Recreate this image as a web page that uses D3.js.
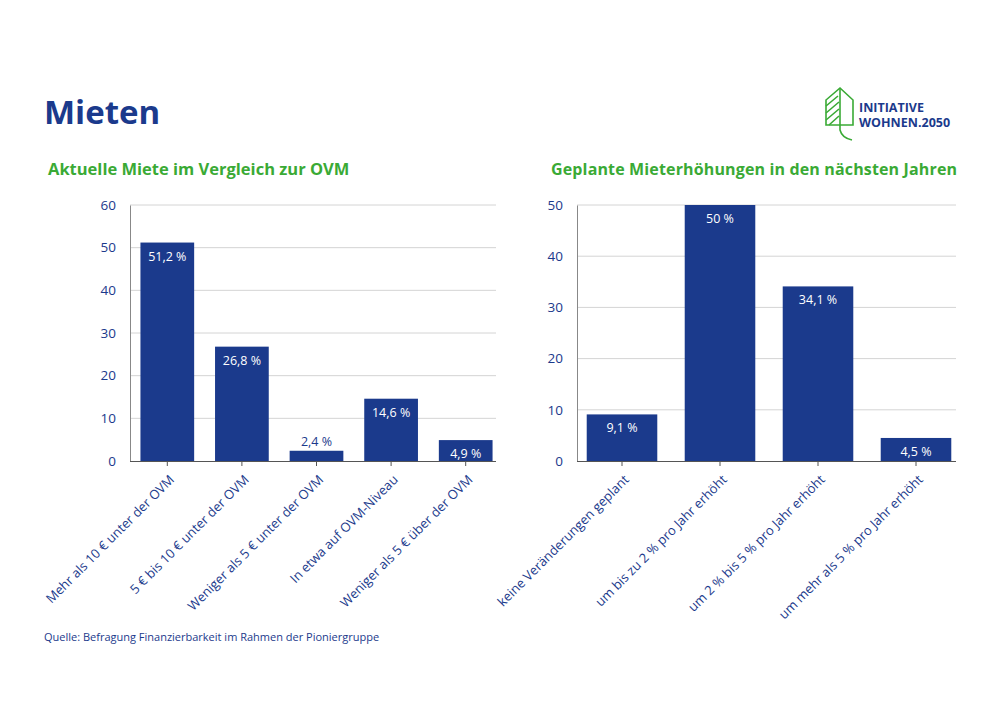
<!DOCTYPE html><html><head><meta charset="utf-8"><script src="https://cdn.jsdelivr.net/npm/d3@7"></script>
<style>body{margin:0;background:#fff}text{font-family:"Open Sans",Roboto,sans-serif}</style></head><body>
<svg id="c" width="1000" height="707"></svg>
<script>
const cats1=["Mehr als 10 € unter der OVM","5 € bis 10 € unter der OVM","Weniger als 5 € unter der OVM","In etwa auf OVM-Niveau","Weniger als 5 € über der OVM"];
const vals1=[51.2,26.8,2.4,14.6,4.9];
const ticks1=[0,10,20,30,40,50,60];
const cats2=["keine Veränderungen geplant","um bis zu 2 % pro Jahr erhöht","um 2 % bis 5 % pro Jahr erhöht","um mehr als 5 % pro Jahr erhöht"];
const vals2=[9.1,50,34.1,4.5];
const ticks2=[0,10,20,30,40,50];
const navy="#1b3a8c",green="#3aaa35";
const svg=d3.select("#c");
svg.append("text").attr("x",44).attr("y",124).attr("fill",navy).attr("font-size",33).attr("font-weight",700).text("Mieten");
svg.append("text").attr("x",48).attr("y",175).attr("fill",green).attr("font-size",16.5).attr("font-weight",700).text("Aktuelle Miete im Vergleich zur OVM");
svg.append("text").attr("x",551).attr("y",175).attr("fill",green).attr("font-size",16).attr("font-weight",700).attr("textLength",406).text("Geplante Mieterhöhungen in den nächsten Jahren");
svg.append("text").attr("x",44).attr("y",641).attr("fill",navy).attr("font-size",11).text("Quelle: Befragung Finanzierbarkeit im Rahmen der Pioniergruppe");
// logo
const lg=svg.append("g").attr("stroke",green).attr("fill","none").attr("stroke-width",1.6);
lg.append("path").attr("d","M826,125 L826,100 L840,88 L853,100 L853,125 Z");
lg.append("path").attr("d","M840,88 L840,130 Q842,138 852,140");
lg.append("path").attr("d","M826,106 L838,96 M826,113 L839,102 M826,120 L839,109 M829,125 L839,116");
svg.append("text").attr("x",859).attr("y",112).attr("fill",navy).attr("font-size",12.5).attr("font-weight",700).text("INITIATIVE");
svg.append("text").attr("x",859).attr("y",127).attr("fill",navy).attr("font-size",12.5).attr("font-weight",700).text("WOHNEN.2050");
function chart(cats,vals,ticks,x0,x1,ax,gx1,top,bottom){
  const x=d3.scaleBand().domain(cats).range([x0,x1]).paddingInner(0.28).paddingOuter(0.14);
  const y=d3.scaleLinear().domain([0,ticks[ticks.length-1]]).range([bottom,top]);
  const g=svg.append("g");
  ticks.forEach(t=>{ if(t>0) g.append("line").attr("x1",ax).attr("x2",gx1).attr("y1",y(t)).attr("y2",y(t)).attr("stroke","#d4d4d4");});
  g.append("g").attr("transform",`translate(${ax},0)`).call(d3.axisLeft(y).tickValues(ticks).tickSize(0).tickPadding(14))
   .call(s=>{s.select(".domain").attr("stroke","#888");s.selectAll("text").attr("fill",navy).attr("font-size",13.5);});
  g.selectAll("rect").data(vals).join("rect").attr("x",(d,i)=>x(cats[i])).attr("width",x.bandwidth())
   .attr("y",d=>y(d)).attr("height",d=>bottom-y(d)).attr("fill",navy);
  g.selectAll("text.v").data(vals).join("text").attr("class","v").attr("x",(d,i)=>x(cats[i])+x.bandwidth()/2)
   .attr("y",d=>d<4?y(d)-5:y(d)+18).attr("text-anchor","middle").attr("font-size",12.5)
   .attr("fill",d=>d<4?navy:"#fff").text(d=>String(d).replace(".",",")+" %");
  const xa=g.append("g").attr("transform",`translate(0,${bottom})`).call(d3.axisBottom(x).tickSize(5).tickPadding(4));
  xa.select(".domain").attr("d",`M${ax},0.5H${gx1}`).attr("stroke","#555");
  xa.selectAll(".tick line").attr("stroke","#555");
  xa.selectAll("text").attr("fill",navy).attr("font-size",13).attr("text-anchor","end")
    .attr("transform","translate(0,8) rotate(-45)").attr("dy","0.35em").attr("dx","-0.2em");
}
chart(cats1,vals1,ticks1,130,503,130,496,205,461);
chart(cats2,vals2,ticks2,573,965,577,956,205,461);
</script></body></html>
